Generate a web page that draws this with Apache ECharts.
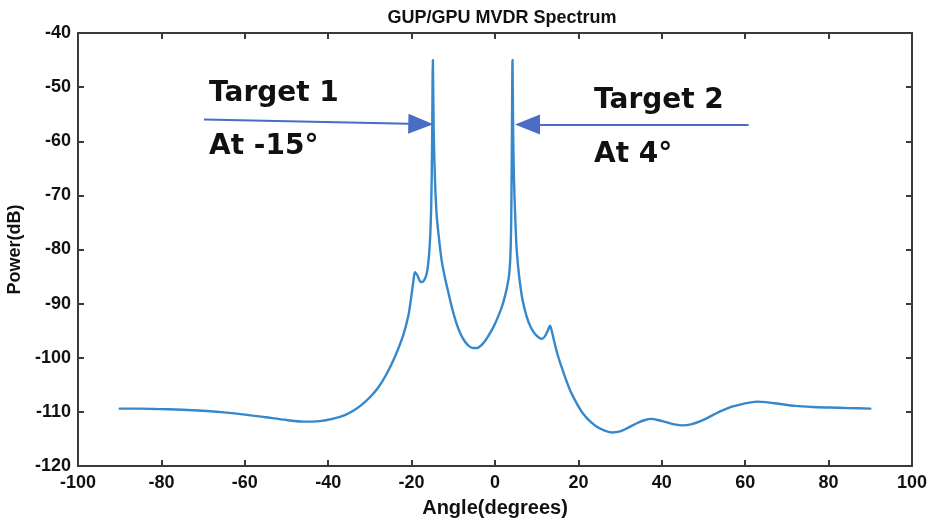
<!DOCTYPE html>
<html>
<head>
    <meta charset="utf-8">
    <title>MVDR Spectrum</title>
    <script src="https://cdn.jsdelivr.net/npm/echarts@6/dist/echarts.min.js"></script>
    <style type="text/css">
    html, body { margin: 0; padding: 0; background: #fff; }
    </style>
</head>
<body>
    <div id="main" style="width: 930px;height:521px;"></div>
    <script type="text/javascript">
        // angle (degrees)
        var angles = [
            -90, -85, -80, -75, -70, -65, -60, -55, -50, -46, -42, -39, -36, -34, -32, -30, -28, -26, -24, -22,
            -20.8, -20.2, -19.6, -19.2, -18.6, -17.8, -17.2, -16.5, -16, -15.6, -15.3, -15.1, -14.9,
            -14.7, -14.4, -14, -13.5, -12.8, -12, -11.2, -10.3, -9.3, -8.3, -7.3, -6.3, -5.3, -4.3,
            -3.3, -2.3, -1.3, -0.3, 0.7, 1.6, 2.3, 2.9, 3.4, 3.7, 3.9, 4.05, 4.2,
            4.35, 4.55, 4.85, 5.2, 5.8, 6.6, 7.6, 8.6, 9.6, 10.6, 11.3, 12, 12.7, 13.2, 13.6,
            14.2, 15, 16, 17, 18, 19.5, 21, 23, 25, 28, 30, 32, 34, 36, 37.5, 39, 41, 43, 45, 47,
            49, 51, 53, 55, 57, 59, 61, 63, 65, 68, 72, 76, 80, 85, 90
        ];
        // power (dB)
        var power = [
            -109.4, -109.4, -109.5, -109.6, -109.8, -110.1, -110.5, -111.0, -111.5, -111.8, -111.7, -111.3, -110.6, -109.8, -108.7, -107.3, -105.5, -103.0, -99.8, -95.8,
            -92.3, -89.4, -86.0, -84.2, -84.8, -86.0, -85.9, -84.8, -82.5, -78.5, -72, -62, -45,
            -58, -67, -73.5, -77.5, -82, -85.2, -87.9, -90.8, -93.5, -95.5, -96.9, -97.8, -98.2, -98.2,
            -97.7, -96.8, -95.6, -94.2, -92.5, -90.7, -88.9, -86.9, -84.6, -81, -74, -60, -45,
            -58, -67, -74, -80, -85, -89.3, -92.4, -94.4, -95.6, -96.3, -96.5, -96, -94.9, -94.1, -95,
            -97, -99.4, -101.8, -104, -106, -108.3, -110.2, -111.9, -113, -113.8, -113.6, -112.9, -112.1, -111.5, -111.3, -111.5, -111.9, -112.3, -112.5, -112.3,
            -111.8, -111.1, -110.3, -109.6, -109.0, -108.6, -108.3, -108.1, -108.2, -108.5, -108.9, -109.1, -109.2, -109.3, -109.4
        ];
        // axis ticks
        var xTicks = [-100, -80, -60, -40, -20, 0, 20, 40, 60, 80, 100];
        var yTicks = [-120, -110, -100, -90, -80, -70, -60, -50, -40];

        // arrows pointing at the two targets: [start angle, start dB, end angle, end dB]
        var arrow1 = [-69.8, -56.0, -17.8, -56.8];
        var arrow2 = [60.8, -56.9, 7.8, -56.9];

        var points = angles.map(function (a, i) { return [a, power[i]]; });

        var myChart = echarts.init(document.getElementById('main'));
        var frame = '#3a3a3a';
        var labelFont = 'Liberation Sans, Arial, sans-serif';

        function boxAxis(pos, showLabels, isX) {
            return {
                type: 'value',
                position: pos,
                min: isX ? xTicks[0] : yTicks[0],
                max: isX ? xTicks[xTicks.length - 1] : yTicks[yTicks.length - 1],
                interval: isX ? 20 : 10,
                splitLine: { show: false },
                axisLine: { show: true, onZero: false, lineStyle: { color: frame, width: 2 } },
                axisTick: { show: true, inside: true, length: 6, lineStyle: { color: frame, width: 2 } },
                axisLabel: {
                    show: showLabels,
                    color: '#111',
                    fontFamily: labelFont,
                    fontWeight: 'bold',
                    fontSize: 18,
                    margin: isX ? 8 : 7
                }
            };
        }

        var xBottom = boxAxis('bottom', true, true);
        xBottom.name = 'Angle(degrees)';
        xBottom.nameLocation = 'middle';
        xBottom.nameGap = 32;
        xBottom.nameTextStyle = { color: '#111', fontFamily: labelFont, fontWeight: 'bold', fontSize: 20 };
        var yLeft = boxAxis('left', true, false);
        yLeft.name = 'Power(dB)';
        yLeft.nameLocation = 'middle';
        yLeft.nameGap = 52;
        yLeft.nameTextStyle = { color: '#111', fontFamily: labelFont, fontWeight: 'bold', fontSize: 18 };

        var option = {
            backgroundColor: '#fff',
            animation: false,
            title: {
                text: 'GUP/GPU MVDR Spectrum',
                left: 497,
                textAlign: 'center',
                top: 4,
                textStyle: { color: '#111', fontFamily: labelFont, fontWeight: 'bold', fontSize: 18 }
            },
            grid: { left: 78, right: 18, top: 33, bottom: 55, containLabel: false, outerBoundsMode: 'none' },
            xAxis: [xBottom, boxAxis('top', false, true)],
            yAxis: [yLeft, boxAxis('right', false, false)],
            series: [{
                type: 'line',
                data: points,
                showSymbol: false,
                smooth: 0.3,
                sampling: 'none',
                lineStyle: { color: '#3688cc', width: 2.4, join: 'round', cap: 'round' },
                markLine: {
                    silent: true,
                    symbol: ['none', 'triangle'],
                    symbolSize: [20, 25],
                    label: { show: false },
                    lineStyle: { color: '#4a6cc4', width: 2, type: 'solid' },
                    data: [
                        [{ coord: [arrow1[0], arrow1[1]] }, { coord: [arrow1[2], arrow1[3]] }],
                        [{ coord: [arrow2[0], arrow2[1]] }, { coord: [arrow2[2], arrow2[3]] }]
                    ]
                }
            }],
            graphic: [
                { type: 'text', left: 209, top: 80, style: { text: 'Target 1', fill: '#111', font: 'bold 28px "DejaVu Sans"' } },
                { type: 'text', left: 209, top: 133, style: { text: 'At -15°', fill: '#111', font: 'bold 28px "DejaVu Sans"' } },
                { type: 'text', left: 594, top: 87, style: { text: 'Target 2', fill: '#111', font: 'bold 28px "DejaVu Sans"' } },
                { type: 'text', left: 594, top: 141, style: { text: 'At 4°', fill: '#111', font: 'bold 28px "DejaVu Sans"' } }
            ]
        };
        myChart.setOption(option);
    </script>
</body>
</html>
